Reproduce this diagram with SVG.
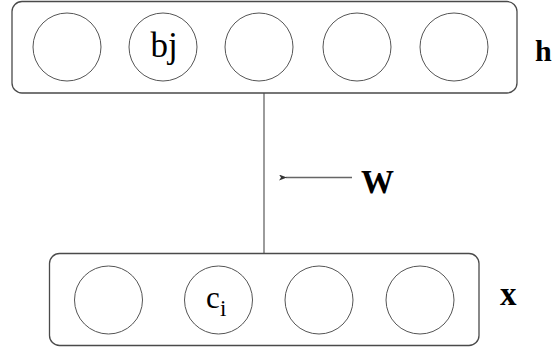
<svg xmlns="http://www.w3.org/2000/svg" width="553" height="349" viewBox="0 0 553 349">
<defs>
<style>
.box{fill:#fff;stroke:#4a4a4a;stroke-width:1.3}
.unit{fill:#fff;stroke:#555;stroke-width:1}
.conn{stroke:#666;stroke-width:1.3;fill:none}
text{font-family:'Liberation Serif','Times New Roman',serif;fill:#000}
.big{font-weight:bold;font-size:33px}
</style>
<marker id="ah" markerWidth="8" markerHeight="6" refX="1" refY="3" orient="auto" markerUnits="userSpaceOnUse">
<path d="M8,0 L0,3 L8,6 L6,3 Z" fill="#333"/>
</marker>
</defs>
<rect width="553" height="349" fill="#fff"/>
<g id="connectors">
<line class="conn" x1="264" y1="93" x2="264" y2="254"/>
<line class="conn" x1="352" y1="177.5" x2="286" y2="177.5" marker-end="url(#ah)"/>
</g>
<g id="hidden-layer">
<rect class="box" x="12" y="1.5" width="505" height="91.5" rx="10"/>
<g id="h1"><circle class="unit" cx="67" cy="47" r="34"/></g>
<g id="h2"><circle class="unit" cx="163" cy="47" r="34"/><text x="164" y="57" font-size="35" text-anchor="middle">bj</text></g>
<g id="h3"><circle class="unit" cx="259" cy="47" r="34"/></g>
<g id="h4"><circle class="unit" cx="357" cy="47" r="34"/></g>
<g id="h5"><circle class="unit" cx="454" cy="47" r="34"/></g>
</g>
<g id="label-h"><text class="big" x="535" y="61" font-size="30" style="font-size:30px">h</text></g>
<g id="visible-layer">
<rect class="box" x="49.5" y="253.5" width="429.5" height="92" rx="10"/>
<g id="x1"><circle class="unit" cx="108.5" cy="300" r="34"/></g>
<g id="x2"><circle class="unit" cx="218.5" cy="300" r="34"/><text x="206" y="308" font-size="31">c</text><text x="220" y="316" font-size="23">i</text></g>
<g id="x3"><circle class="unit" cx="319" cy="300" r="34"/></g>
<g id="x4"><circle class="unit" cx="420" cy="300" r="34"/></g>
</g>
<g id="label-x"><text class="big" x="500" y="305">x</text></g>
<g id="label-W"><text class="big" x="361" y="193">W</text></g>
</svg>
